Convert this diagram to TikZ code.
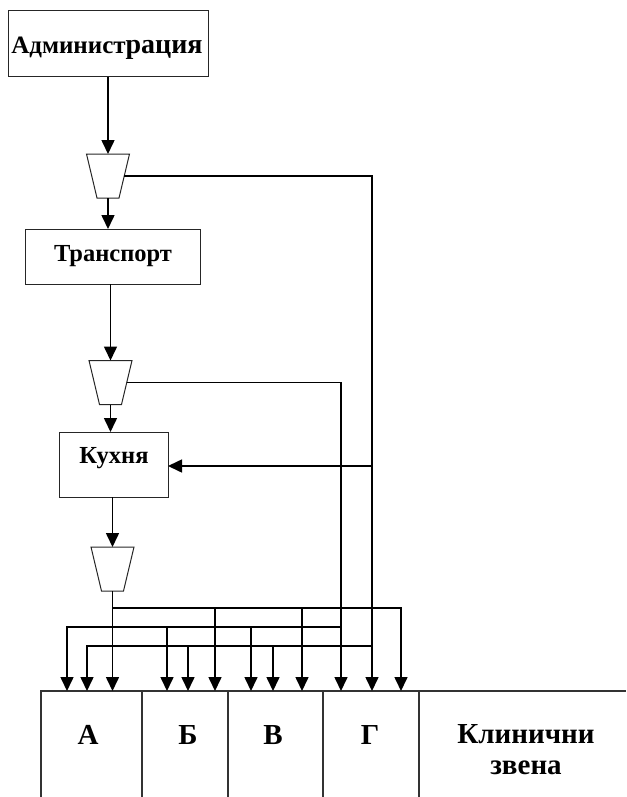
\documentclass[tikz,border=0pt]{standalone}
\usepackage{fontspec}
\setmainfont{Liberation Serif}
\usetikzlibrary{arrows.meta,calc}
\begin{document}
\begin{tikzpicture}[x=1pt,y=-1pt,
  box/.style={draw=black!85, line width=1pt, inner sep=0pt, outer sep=0pt},
  trapline/.style={draw=black!85, line width=1pt, line join=miter},
  conn/.style={line width=1.6pt},
  arr/.style={conn, -{Triangle[width=13pt,length=14pt]}},
  lbl/.style={font=\bfseries\fontsize{24.5}{26}\selectfont, inner sep=0pt, anchor=base},
  big/.style={font=\bfseries\fontsize{29}{31}\selectfont, inner sep=0pt, align=center},
  rowline/.style={draw=black!80, line width=1.1pt}]
\useasboundingbox (0,0) rectangle (626,797);

% boxes
\node[box, minimum width=200pt, minimum height=66pt] (admin) at (108,44) {};
\node[inner sep=0pt, font=\bfseries, anchor=base] (admintxt) at (107,54)
  {{\fontsize{25}{26}\selectfont Админист}{\fontsize{28}{26}\selectfont рация}};
\node[box, minimum width=175pt, minimum height=55pt] (transport) at (112.5,256.5) {};
\node[lbl] (transporttxt) at (113,261) {Транспорт};
\node[box, minimum width=109pt, minimum height=65pt] (kitchen) at (113.5,464.5) {};
\node[lbl] (kitchentxt) at (114,463) {Кухня};

% trapezia (wide side up)
\foreach \n/\cx/\cy in {t1/108/176, t2/110.5/382.5, t3/112.5/569}{
  \coordinate (\n) at (\cx,\cy);
  \coordinate (\n n) at (\cx,\cy-22);
  \coordinate (\n s) at (\cx,\cy+22);
  \coordinate (\n e) at (\cx+16.25,\cy);
  \draw[trapline] (\cx-21.5,\cy-22) -- (\cx+21.5,\cy-22) -- (\cx+11,\cy+22) -- (\cx-11,\cy+22) -- cycle;
}

% bottom row
\coordinate (rowtop) at (0,691);
\draw[rowline] (41,797) -- (41,691) -- (626,691);
\foreach \x in {142,228,323,419} \draw[rowline] (\x,691) -- (\x,797);
\node[big, anchor=base] (la) at (88,744) {А};
\node[big, anchor=base] (lb) at (188,744) {Б};
\node[big, anchor=base] (lv) at (273,744) {В};
\node[big, anchor=base] (lg) at (370,744) {Г};
\node[big] (lk) at (526,750) {Клинични\\звена};

% arrow targets
\coordinate (a1) at (67,691);
\coordinate (a2) at (87,691);
\coordinate (b1) at (167,691);
\coordinate (b2) at (188,691);
\coordinate (b3) at (215,691);
\coordinate (v1) at (251,691);
\coordinate (v2) at (273,691);
\coordinate (v3) at (302,691);
\coordinate (g1) at (341,691);
\coordinate (g2) at (372,691);
\coordinate (g3) at (401,691);

% main chain
\draw[arr] (admin.south) -- (t1n);
\draw[arr] (t1s) -- (t1s |- transport.north);
\draw[arr] (t2n |- transport.south) -- (t2n);
\draw[arr] (t2s) -- (t2s |- kitchen.north);
\draw[arr] (t3n |- kitchen.south) -- (t3n);
\draw[arr] (t3s) -- (t3s |- rowtop);

% from t1
\draw[arr] (t1e) -| (g2);
\coordinate (j1) at (372,466);
\draw[arr] (j1) -- (j1 -| kitchen.east);
\coordinate (j2) at (372,646);
\draw[arr] (j2) -| (a2);
\draw[arr] (j2 -| b2) -- (b2);
\draw[arr] (j2 -| v2) -- (v2);

% from t2
\draw[arr] (t2e) -| (g1);
\coordinate (j3) at (341,627);
\draw[arr] (j3) -| (a1);
\draw[arr] (j3 -| b1) -- (b1);
\draw[arr] (j3 -| v1) -- (v1);

% from t3
\coordinate (j4) at (112.5,608);
\draw[arr] (j4) -| (g3);
\draw[arr] (j4 -| b3) -- (b3);
\draw[arr] (j4 -| v3) -- (v3);
\end{tikzpicture}
\end{document}
